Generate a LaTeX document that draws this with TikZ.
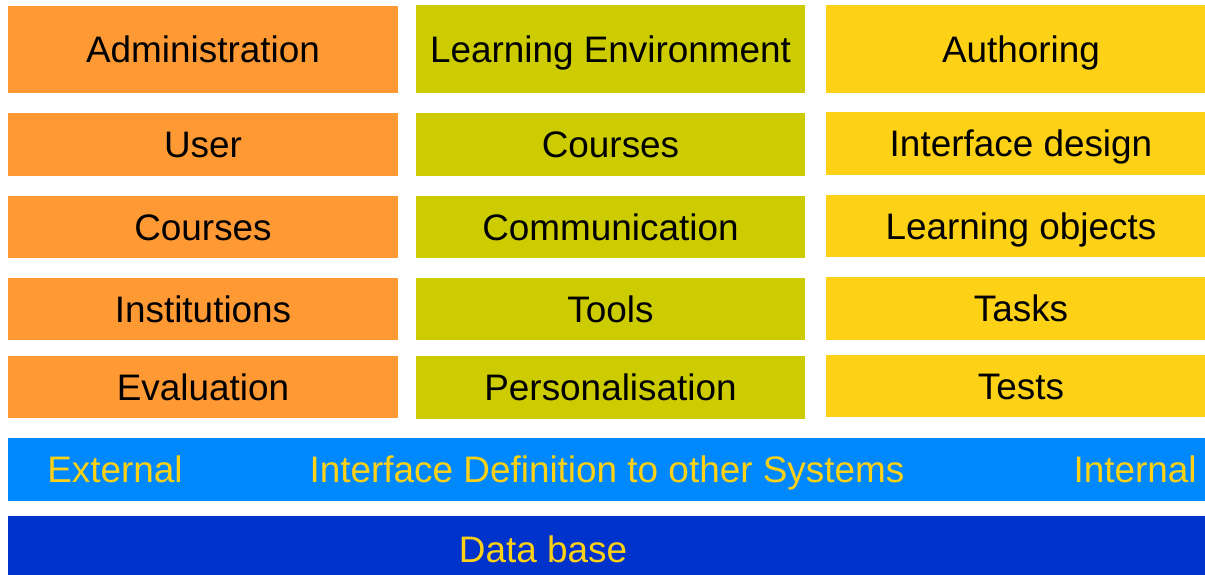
\documentclass[tikz,border=0pt]{standalone}
\usepackage{fontspec}
\setmainfont{Liberation Sans}
\usepackage{xcolor}
\usepackage{tikz}
\usetikzlibrary{positioning}
\definecolor{admorange}{HTML}{FF9933}
\definecolor{envgreen}{HTML}{CCCC00}
\definecolor{authyellow}{HTML}{FCD116}
\definecolor{ifblue}{HTML}{0088FF}
\definecolor{dbblue}{HTML}{0033CC}
\tikzset{
  cell/.style={rectangle, inner sep=0pt, minimum width=7.8cm, minimum height=1.26cm, align=center, font=\fontsize{21}{25}\selectfont, text height=15pt, text depth=0pt},
  head/.style={cell, minimum height=1.76cm},
  adm/.style={fill=admorange},
  env/.style={fill=envgreen},
  auth/.style={fill=authyellow},
  band/.style={rectangle, inner sep=0pt, minimum width=24.16cm, minimum height=1.26cm},
  bandtext/.style={inner sep=0pt, text=authyellow, font=\fontsize{21}{25}\selectfont, text height=15pt, text depth=0pt},
}

\begin{document}
\begin{tikzpicture}[x=0.02cm, y=-0.02cm]
\useasboundingbox (0,0) rectangle (1205,575);
\clip (0,0) rectangle (1205,575);
% administration column
\node[head, adm] (adm) at (203,49.5) {Administration};
\node[cell, adm] (admuser) at (203,144.5) {User};
\node[cell, adm] (admcourses) at (203,227) {Courses};
\node[cell, adm] (adminst) at (203,309) {Institutions};
\node[cell, adm] (admeval) at (203,387) {Evaluation};
% learning environment column
\node[head, env] (env) at (610.5,49) {Learning Environment};
\node[cell, env] (envcourses) at (610.5,144.5) {Courses};
\node[cell, env] (envcomm) at (610.5,227) {Communication};
\node[cell, env] (envtools) at (610.5,309) {Tools};
\node[cell, env] (envpers) at (610.5,387.5) {Personalisation};
% authoring column
\node[head, auth] (auth) at (1021,49) {Authoring};
\node[cell, auth] (authiface) at (1021,143.5) {Interface design};
\node[cell, auth] (authlo) at (1021,226) {Learning objects};
\node[cell, auth] (authtasks) at (1021,308.5) {Tasks};
\node[cell, auth] (authtests) at (1021,386) {Tests};
% interface band and data base
\node[band, fill=ifblue, anchor=west] (idef) at (8,469.5) {};
\node[bandtext] (idefl) at (607,469.5) {Interface Definition to other Systems};
\node[bandtext, anchor=west] (ext) at (47,469.5) {External};
\node[bandtext, anchor=east] (int) at (1197,469.5) {Internal};
\node[band, fill=dbblue, anchor=north west, minimum height=1.4cm] (db) at (8,516) {};
\node[bandtext] (dbl) at (543,549) {Data base};
\end{tikzpicture}
\end{document}
